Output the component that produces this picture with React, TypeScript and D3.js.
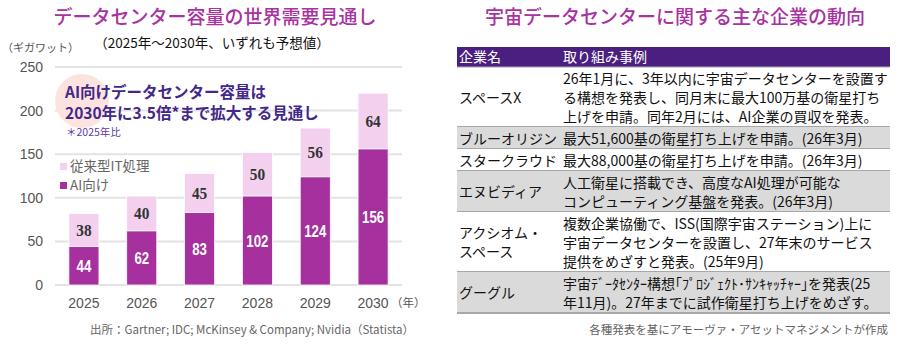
import React from "react";
import * as d3 from "d3";

const years = ["2025", "2026", "2027", "2028", "2029", "2030"];
const aiValues = [44, 62, 83, 102, 124, 156];
const itValues = [38, 40, 45, 50, 56, 64];
const yTicks = [0, 50, 100, 150, 200, 250];

const companies = [
  ["スペースX"],
  ["ブルーオリジン"],
  ["スタークラウド"],
  ["エヌビディア"],
  ["アクシオム・", "スペース"],
  ["グーグル"],
];
const descriptions = [
  [
    "26年1月に、3年以内に宇宙データセンターを設置す",
    "る構想を発表し、同月末に最大100万基の衛星打ち",
    "上げを申請。同年2月には、AI企業の買収を発表。",
  ],
  ["最大51,600基の衛星打ち上げを申請。(26年3月)"],
  ["最大88,000基の衛星打ち上げを申請。(26年3月)"],
  ["人工衛星に搭載でき、高度なAI処理が可能な", "コンピューティング基盤を発表。(26年3月)"],
  [
    "複数企業協働で、ISS(国際宇宙ステーション)上に",
    "宇宙データセンターを設置し、27年末のサービス",
    "提供をめざすと発表。(25年9月)",
  ],
  ["宇宙ﾃﾞｰﾀｾﾝﾀｰ構想｢ﾌﾟﾛｼﾞｪｸﾄ･ｻﾝｷｬｯﾁｬｰ｣を発表(25", "年11月)。27年までに試作衛星打ち上げをめざす。"],
];
const rowShaded = [false, true, false, true, false, true];

const FONT = "'Liberation Sans', Arial, 'Noto Sans CJK JP', sans-serif";
const JP = "'Noto Sans CJK JP', sans-serif";
const DARK = "#a5309e";
const LIGHT = "#f2d0ee";
const TITLE = "#a932a2";

export default function App() {
  const x = d3.scaleBand<string>().domain(years).range([55, 402]).paddingInner(0.48).paddingOuter(0.24);
  const y = d3.scaleLinear().domain([0, 250]).range([285, 67]);

  // table layout
  const tX0 = 457;
  const tX1 = 890;
  const headerTop = 47;
  const headerH = 20;
  const lineH = 19;
  const rows: { top: number; h: number }[] = [];
  let cur = headerTop + headerH;
  descriptions.forEach((d, i) => {
    const n = Math.max(d.length, companies[i].length);
    const h = n * lineH + 3;
    rows.push({ top: cur, h });
    cur += h;
  });

  return (
    <svg width={900} height={350} style={{ position: "absolute", left: 0, top: 0, background: "#fff" }} fontFamily={FONT}>
      {/* Left chart */}
      <text x={215} y={24} textAnchor="middle" fontSize={19} fill={TITLE} fontFamily={JP} fontWeight={500}>
        データセンター容量の世界需要見通し
      </text>
      <text x={212} y={48} textAnchor="middle" fontSize={13.5} fill="#111" fontFamily={JP}>
        （2025年～2030年、いずれも予想値）
      </text>
      <text x={2} y={52} fontSize={11} fill="#555" fontFamily={JP}>
        （ギガワット）
      </text>

      {yTicks.map((t) => (
        <g key={t}>
          <line x1={55} x2={402} y1={y(t)} y2={y(t)} stroke="#e3e3e3" strokeWidth={2} />
          <text x={43} y={y(t) + 5} textAnchor="end" fontSize={14} fill="#555">
            {t}
          </text>
        </g>
      ))}

      {/* annotation circle */}
      <circle cx={82} cy={101} r={27} fill="#fce3df" />

      {years.map((yr, i) => {
        const bx = x(yr)!;
        const bw = x.bandwidth();
        const ai = aiValues[i];
        const it = itValues[i];
        const cx = bx + bw / 2;
        return (
          <g key={yr}>
            <rect x={bx} y={y(ai + it)} width={bw} height={y(ai) - y(ai + it)} fill={LIGHT} stroke="#fff" strokeWidth={0.8} />
            <rect x={bx} y={y(ai)} width={bw} height={y(0) - y(ai)} fill={DARK} stroke="#fff" strokeWidth={0.8} />
            <text
              transform={`translate(${cx},${(y(ai) + y(ai + it)) / 2 + 6}) scale(0.9,1)`}
              textAnchor="middle"
              fontSize={17}
              fontWeight="bold"
              fill="#333"
              fontFamily="'Liberation Serif', 'DejaVu Serif', serif"
            >
              {it}
            </text>
            <text
              transform={`translate(${cx},${(y(0) + y(ai)) / 2 + 6}) scale(0.78,1)`}
              textAnchor="middle"
              fontSize={17}
              fontWeight="bold"
              fill="#fff"
              fontFamily="'Liberation Sans', Arial, sans-serif"
            >
              {ai}
            </text>
            <text x={cx} y={308} textAnchor="middle" fontSize={14} fill="#555">
              {yr}
            </text>
          </g>
        );
      })}
      <text x={391} y={307} fontSize={11.5} fill="#555" fontFamily={JP}>
        （年）
      </text>

      {/* annotation text */}
      <text x={65} y={98} fontSize={15.5} fontWeight="bold" fill="#43288a" fontFamily={JP}>
        AI向けデータセンター容量は
      </text>
      <text x={65} y={119} fontSize={15.5} fontWeight="bold" fill="#43288a" fontFamily={JP}>
        2030年に3.5倍*まで拡大する見通し
      </text>
      <text x={66} y={136} fontSize={10.5} fill="#5b3aa6" fontFamily={JP}>
        ＊2025年比
      </text>

      {/* legend */}
      <rect x={60} y={163} width={7} height={7} fill={LIGHT} />
      <text x={70} y={171} fontSize={13.5} fill="#666" fontFamily={JP}>
        従来型IT処理
      </text>
      <rect x={60} y={182} width={7} height={7} fill={DARK} />
      <text x={70} y={190} fontSize={13.5} fill="#666" fontFamily={JP}>
        AI向け
      </text>

      <text x={90} y={334} fontSize={11.5} fill="#666" fontFamily={JP}>
        出所：Gartner; IDC; McKinsey &amp; Company; Nvidia（Statista）
      </text>

      {/* Right table */}
      <text x={675} y={24} textAnchor="middle" fontSize={19} fill={TITLE} fontFamily={JP} fontWeight={500}>
        宇宙データセンターに関する主な企業の動向
      </text>
      <rect x={tX0} y={headerTop} width={tX1 - tX0} height={headerH} fill="#4a1f80" />
      <text x={459} y={headerTop + 15} fontSize={14} fill="#fff" fontFamily={JP}>
        企業名
      </text>
      <text x={563} y={headerTop + 15} fontSize={14} fill="#fff" fontFamily={JP}>
        取り組み事例
      </text>
      {rows.map((r, i) => {
        const dl = descriptions[i];
        const cl = companies[i];
        const dStart = r.top + (r.h - dl.length * lineH) / 2;
        const cStart = r.top + (r.h - cl.length * lineH) / 2;
        return (
          <g key={i}>
            <rect x={tX0} y={r.top} width={tX1 - tX0} height={r.h} fill={rowShaded[i] ? "#dadada" : "#fff"} />
            {cl.map((c, j) => (
              <text key={"c" + j} x={459} y={cStart + j * lineH + 15} fontSize={14} fill="#111" fontFamily={JP}>
                {c}
              </text>
            ))}
            {dl.map((d, j) => (
              <text key={"d" + j} x={563} y={dStart + j * lineH + 15} fontSize={14} fill="#111" fontFamily={JP}>
                {d}
              </text>
            ))}
            <line x1={tX0} x2={tX1} y1={r.top + r.h} y2={r.top + r.h} stroke="#a8a8a8" strokeWidth={2} />
          </g>
        );
      })}
      <line x1={tX0} x2={tX1} y1={headerTop + headerH} y2={headerTop + headerH} stroke="#a8a8a8" strokeWidth={1} />

      <text x={888} y={334} textAnchor="end" fontSize={11.5} fill="#666" fontFamily={JP}>
        各種発表を基にアモーヴァ・アセットマネジメントが作成
      </text>
    </svg>
  );
}
